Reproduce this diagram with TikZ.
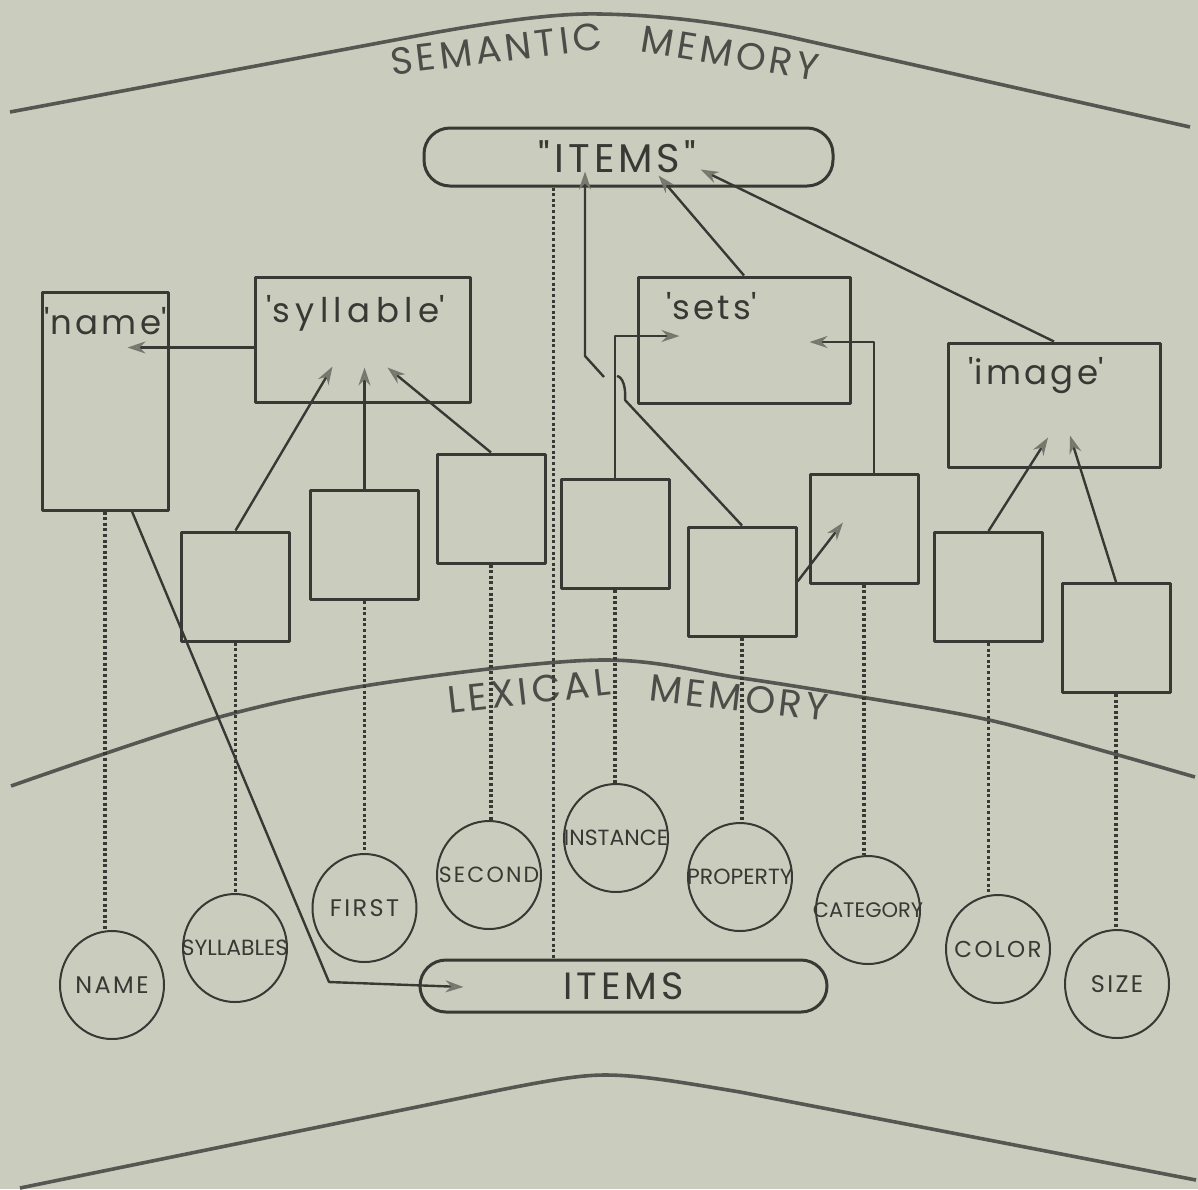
\documentclass[tikz,border=0pt]{standalone}
\usepackage{fontspec}
\setmainfont{Poppins}
\newfontfamily\spaced{Poppins}[LetterSpace=10]
\usetikzlibrary{arrows.meta, calc, positioning, shapes.geometric}
\definecolor{paper}{RGB}{202,205,190}
\definecolor{ink}{RGB}{56,56,52}
\definecolor{tipgray}{RGB}{118,120,110}
\newcommand{\qt}[1]{\textquotesingle#1\textquotesingle}
\newcommand{\nw}[1]{\makebox[0pt]{#1}}

\begin{document}
\begin{tikzpicture}[x=0.5pt, y=-0.5pt, line join=round,
  box/.style={draw=ink, line width=1.5pt, inner sep=0pt},
  sbox/.style={box, minimum width=54pt, minimum height=54.5pt},
  word/.style={ellipse, draw=ink, line width=1pt, minimum width=52pt, minimum height=54pt, inner sep=0pt, text=ink, font=\spaced\fontsize{12}{13}\selectfont},
  tight/.style={font=\fontsize{11}{12}\selectfont},
  pill/.style={box, rounded corners=13pt, text=ink, font=\spaced\fontsize{20}{22}\selectfont},
  title/.style={text=ink, inner sep=0pt, anchor=north west, font=\spaced\fontsize{17}{19}\selectfont},
  head/.style={text=ink!90, inner sep=0pt, font=\spaced\fontsize{19}{21}\selectfont},
  link/.style={ink, line width=1.2pt},
  arr/.style={link, -{Stealth[open, length=9pt, width=6pt, color=tipgray]}},
  dots/.style={ink, line width=1.6pt, dash pattern=on 1.5pt off 1.3pt},
  rim/.style={draw=ink!85, line width=1.8pt}]
\fill[paper] (0,0) rectangle (1198,1189);

% the three boundaries
\draw[rim] (10,112) -- (400,39) .. controls (500,20) and (560,13) .. (600,14) .. controls (660,15) and (720,22) .. (790,37) -- (1190,127);
\draw[rim] plot[smooth, tension=0.55] coordinates {(11,786) (216,718) (383,683) (600,660) (741,678) (867,698) (989,720) (1111,753) (1195,777)};
\draw[rim] (20,1188) -- (500,1090) .. controls (560,1078) and (585,1075) .. (605,1075) .. controls (640,1075) and (680,1082) .. (740,1092) -- (1196,1180);
\node[head, rotate=7] (sem1) at (496,49) {SEMANTIC}; \node[head, rotate=-9.5] (sem2) at (730,53) {MEMORY};
\node[head, rotate=6.5] (lex1) at (529,691) {LEXICAL}; \node[head, rotate=-6.6] (lex2) at (739,698) {MEMORY};

% semantic memory
\node[pill, minimum width=204.5pt, minimum height=29pt] (top) at (628.5,157) {"ITEMS"\hspace*{11pt}};
\node[box, minimum width=63pt, minimum height=109pt] (nm) at (105,401) {};
\node[box, minimum width=107.5pt, minimum height=62.5pt] (syl) at (362.5,339.5) {};
\node[box, minimum width=106pt, minimum height=63pt] (sets) at (744,340) {};
\node[box, minimum width=106pt, minimum height=62pt] (img) at (1054,405) {};
\node[title] (nmtxt) at ($(nm.north west)+(4,17)$) {\qt{name}};
\node[title] (syltxt) at ($(syl.north west)+(13,20)$) {\addfontfeature{LetterSpace=16}\qt{syllable}};
\node[title] (setstxt) at ($(sets.north west)+(30,17)$) {\qt{sets}};
\node[title] (imgtxt) at ($(img.north west)+(22,16)$) {\qt{image}};
\node[sbox] (b1) at (235.5,586.5) {}; \node[sbox] (b2) at (364.5,545) {}; \node[sbox] (b3) at (491,508.5) {};
\node[sbox] (b4) at (615,534) {}; \node[sbox] (b5) at (742,581.5) {}; \node[sbox] (b6) at (864,528.5) {};
\node[sbox] (b7) at (988.5,587) {}; \node[sbox] (b8) at (1116,638) {};

% lexical memory
\node[word] (cname) at (112,985) {\nw{NAME}}; \node[word, tight] (csyl) at (235,948) {\nw{SYLLABLES}};
\node[word] (cfirst) at (364.5,908) {\nw{FIRST}}; \node[word, font=\spaced\fontsize{11}{12}\selectfont] (csec) at (489,875) {\nw{SECOND}};
\node[word, tight] (cinst) at (616,838) {\nw{INSTANCE}}; \node[word, tight] (cprop) at (740,877) {\nw{PROPERTY}};
\node[word, font=\fontsize{10.5}{12}\selectfont] (ccat) at (868,910) {\nw{CATEGORY}}; \node[word, font=\spaced\fontsize{11.5}{12}\selectfont] (ccol) at (998,949) {\nw{COLOR}};
\node[word] (csize) at (1117,984) {\nw{SIZE}};
\node[pill, minimum width=203.5pt, minimum height=26pt, font=\spaced\fontsize{19}{21}\selectfont] (itm) at (623.5,986) {ITEMS};

% links
\draw[arr] ($(syl.west)+(0,8)$) -- ($(nm.east |- syl.west)+(-42,8)$);
\draw[arr] (b1.north) -- ($(syl.south)+(-30,-37)$);
\draw[arr] (b2.north) -- ($(b2.north |- syl.south)+(0,-36)$);
\draw[arr] (b3.north) -- ($(syl.south)+(25,-36)$);
\draw[arr] (sets.north) -- ($(top.south)+(30,-12)$);
\draw[arr] (img.north) -- ($(top.south)+(72,-18)$);
\coordinate (hopA) at (625,400); \coordinate (hopB) at (604,377); \coordinate (kink) at (585,356);
\draw[arr] (b5.north) -- (hopA) .. controls (626,388) and (623,377) .. (617,376) (hopB) -- (kink) -- ($(kink |- top.south)+(0,-16)$);
\draw[arr] (b4.north) |- ($(sets.west)+(43,-4)$);
\draw[arr] ($(b6.north)+(10,0)$) |- ($(sets.east)+(-42,2)$);
\draw[arr] (b5.east) -- ($(b6.center)+(-21,-6)$);
\draw[arr] (b7.north) -- ($(img.south)+(-6,-31)$);
\draw[arr] (b8.north) -- ($(img.south)+(16,-33)$);
\coordinate (elbow) at (329,982);
\draw[arr] ($(nm.south)+(27,0)$) -- (elbow) -- ($(itm.west)+(45,1)$);

% dotted ties
\foreach \b/\c in {nm/cname, b1/csyl, b2/cfirst, b3/csec, b4/cinst, b5/cprop, b6/ccat, b7/ccol, b8/csize}
  \draw[dots] (\b.south) -- (\b.south |- \c.north);
\coordinate (drop) at ($(top.south)+(-75,0)$);
\draw[dots] (drop) -- (drop |- itm.north);
\end{tikzpicture}
\end{document}
